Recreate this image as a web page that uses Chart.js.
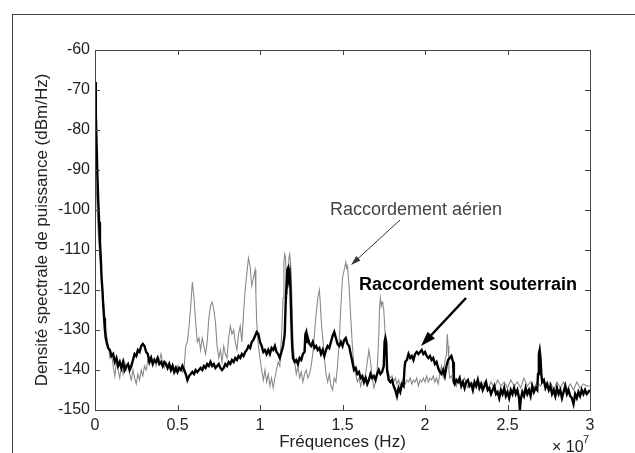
<!DOCTYPE html>
<html><head><meta charset="utf-8">
<script src="https://cdn.jsdelivr.net/npm/chart.js@4"></script>
<style>
html,body{margin:0;padding:0;background:#fff;}
#wrap{position:relative;width:635px;height:453px;overflow:hidden;}
#frame{position:absolute;left:12px;top:14px;width:640px;height:460px;border-left:1px solid #444;border-top:1px solid #444;}
canvas{position:absolute;left:0;top:0;}
</style></head><body>
<div id="wrap"><div id="frame"></div><canvas id="c" width="635" height="453"></canvas></div>
<script>
// Frequencies in units of 1e7 Hz
const freqSouterrain = [0,0.005,0.01,0.015,0.02,0.025,0.03,0.035,0.04,0.045,0.05,0.055,0.06,0.065,0.07,0.08,0.09,0.10,0.11,0.12,0.13,0.14,0.15,0.16,0.17,0.18,0.19,0.20,0.21,0.22,0.23,0.24,0.25,0.26,0.27,0.28,0.29,0.30,0.31,0.32,0.33,0.34,0.35,0.36,0.37,0.38,0.39,0.40,0.41,0.42,0.43,0.44,0.45,0.46,0.47,0.48,0.49,0.50,0.51,0.52,0.53,0.54,0.55,0.56,0.57,0.58,0.59,0.60,0.61,0.62,0.63,0.64,0.65,0.66,0.67,0.68,0.69,0.70,0.71,0.72,0.73,0.74,0.75,0.76,0.77,0.78,0.79,0.80,0.81,0.82,0.83,0.84,0.85,0.86,0.87,0.88,0.89,0.90,0.91,0.92,0.93,0.94,0.95,0.96,0.97,0.98,0.99,1.00,1.01,1.02,1.03,1.04,1.05,1.06,1.07,1.08,1.09,1.10,1.11,1.12,1.13,1.14,1.15,1.155,1.16,1.165,1.17,1.175,1.18,1.185,1.19,1.195,1.20,1.21,1.22,1.23,1.24,1.25,1.26,1.27,1.275,1.28,1.285,1.29,1.30,1.31,1.32,1.33,1.34,1.35,1.36,1.37,1.38,1.39,1.40,1.41,1.42,1.43,1.44,1.45,1.46,1.47,1.48,1.49,1.50,1.51,1.52,1.53,1.54,1.55,1.56,1.57,1.58,1.59,1.60,1.61,1.62,1.63,1.64,1.65,1.66,1.67,1.68,1.69,1.70,1.71,1.72,1.73,1.74,1.75,1.755,1.76,1.765,1.77,1.78,1.79,1.80,1.81,1.82,1.83,1.84,1.85,1.86,1.87,1.875,1.88,1.89,1.90,1.91,1.92,1.93,1.94,1.95,1.96,1.97,1.98,1.99,2.00,2.01,2.02,2.03,2.04,2.05,2.06,2.07,2.08,2.09,2.10,2.11,2.12,2.13,2.14,2.15,2.16,2.17,2.175,2.18,2.19,2.20,2.21,2.22,2.23,2.24,2.25,2.26,2.27,2.28,2.29,2.30,2.31,2.32,2.33,2.34,2.35,2.36,2.37,2.38,2.39,2.40,2.41,2.42,2.43,2.44,2.45,2.46,2.47,2.48,2.49,2.50,2.51,2.52,2.53,2.54,2.55,2.56,2.57,2.575,2.58,2.59,2.60,2.61,2.62,2.63,2.64,2.65,2.66,2.67,2.68,2.685,2.69,2.695,2.70,2.705,2.71,2.72,2.73,2.74,2.75,2.76,2.77,2.78,2.79,2.80,2.81,2.82,2.83,2.84,2.85,2.86,2.87,2.88,2.89,2.90,2.91,2.92,2.93,2.94,2.95,2.96,2.97,2.98,2.99,3.00];
const dspSouterrain = [-68,-76,-84,-92,-98,-103,-108,-112,-117,-120,-124,-127,-130,-132,-133,-134.5,-135,-136.5,-136,-138,-137,-139,-138,-139.5,-138,-140,-139,-138.5,-140,-139,-137.5,-136,-136.5,-135,-135.5,-134,-133.5,-134,-135.5,-136,-138,-137,-138.5,-137.5,-138,-137,-138.5,-138,-139,-138,-138.5,-139.5,-138.5,-140,-139,-140.5,-139.5,-140.5,-139.5,-140,-139,-140,-141,-142.5,-141.5,-141,-140.5,-141,-140,-140.5,-140,-139.5,-140,-139,-139.5,-138.5,-139,-138,-139,-138.5,-139.5,-139,-138.5,-139.5,-140,-139.5,-138.5,-139,-138,-138.5,-137.5,-138,-137,-137.5,-136.5,-137,-136,-136.5,-135.5,-135,-134,-134.5,-133,-132.5,-131.5,-130.5,-131,-133,-134,-135.5,-135,-136,-135,-136,-134.5,-135,-134,-135.5,-136,-137,-135.5,-134,-131,-124,-119,-115,-114.5,-117,-116,-120,-128,-134,-137,-138,-137.5,-138.5,-137,-137.5,-136,-135.5,-131,-130.5,-133,-132,-133.5,-134,-133,-134.5,-134,-135,-134.5,-136,-135,-136.5,-135,-134,-134.5,-133,-131.5,-130.5,-132,-133.5,-134,-133,-134,-132.5,-132,-133.5,-134,-136,-138,-140,-139.5,-141,-140.5,-142,-141.5,-143,-142,-143.5,-142.5,-141,-142,-141.5,-142.5,-141,-140,-141,-140.5,-139,-133,-132,-133,-140,-142.5,-143,-142.5,-144,-145,-146.5,-144.5,-145.5,-143.5,-144,-140,-138,-137.5,-136,-137,-136.5,-137.5,-136,-135.5,-136,-135.5,-135,-136,-135.5,-136.5,-137,-136.5,-137.5,-137,-138.5,-138,-139.5,-140.5,-141,-140,-141.5,-139,-137.5,-137,-136.5,-138,-143,-143.5,-142.5,-143,-142,-144,-143,-144.5,-143,-142.5,-144,-143.5,-145,-143,-144,-142.5,-144.5,-143.5,-145,-144,-143,-145,-144.5,-146,-145,-144,-146,-145.5,-147,-145,-146,-144.5,-146.5,-145.5,-147,-145,-146,-144.5,-146,-145,-147,-150,-147.5,-145.5,-146.5,-144.5,-146,-145,-146.5,-144,-145.5,-144.5,-145,-141,-136,-135,-137,-141,-143,-142.5,-144.5,-143.5,-145,-144,-146,-145,-146.5,-144.5,-146,-145,-147,-145.5,-144,-146,-145,-146.5,-147,-148.5,-146,-147,-145.5,-146.5,-145,-146,-145,-146,-145.5,-145];

const freqAerien = [0,0.005,0.01,0.015,0.02,0.03,0.04,0.05,0.06,0.07,0.08,0.09,0.10,0.11,0.12,0.13,0.14,0.15,0.16,0.17,0.18,0.19,0.20,0.21,0.22,0.23,0.24,0.25,0.26,0.27,0.28,0.29,0.30,0.31,0.32,0.33,0.34,0.35,0.36,0.37,0.38,0.39,0.40,0.41,0.42,0.43,0.44,0.45,0.46,0.47,0.48,0.49,0.50,0.51,0.52,0.53,0.54,0.55,0.56,0.57,0.58,0.59,0.60,0.61,0.62,0.63,0.64,0.65,0.66,0.67,0.68,0.69,0.70,0.71,0.72,0.73,0.74,0.75,0.76,0.77,0.78,0.79,0.80,0.81,0.82,0.83,0.84,0.85,0.86,0.87,0.88,0.89,0.90,0.91,0.92,0.93,0.94,0.95,0.96,0.97,0.975,0.98,0.99,1.00,1.01,1.02,1.03,1.04,1.05,1.06,1.07,1.08,1.09,1.10,1.11,1.12,1.13,1.14,1.145,1.15,1.155,1.16,1.165,1.17,1.175,1.18,1.185,1.19,1.195,1.20,1.21,1.22,1.23,1.24,1.25,1.26,1.27,1.28,1.29,1.30,1.31,1.32,1.33,1.34,1.35,1.36,1.365,1.37,1.38,1.39,1.40,1.41,1.42,1.43,1.44,1.45,1.46,1.47,1.48,1.49,1.50,1.51,1.52,1.525,1.53,1.54,1.55,1.56,1.57,1.58,1.59,1.60,1.61,1.62,1.63,1.64,1.65,1.66,1.67,1.68,1.69,1.70,1.71,1.72,1.725,1.73,1.735,1.74,1.745,1.75,1.76,1.77,1.78,1.79,1.80,1.81,1.82,1.83,1.84,1.85,1.86,1.87,1.88,1.89,1.90,1.91,1.92,1.93,1.94,1.95,1.96,1.97,1.98,1.99,2.00,2.01,2.02,2.03,2.04,2.05,2.06,2.07,2.08,2.09,2.10,2.11,2.12,2.13,2.135,2.14,2.145,2.15,2.16,2.17,2.18,2.19,2.20,2.22,2.24,2.26,2.28,2.30,2.32,2.34,2.36,2.38,2.40,2.42,2.44,2.46,2.48,2.50,2.52,2.54,2.56,2.58,2.60,2.62,2.64,2.66,2.68,2.70,2.72,2.74,2.76,2.78,2.80,2.82,2.84,2.86,2.88,2.90,2.92,2.94,2.96,2.98,3.00];
const dspAerien = [-88,-92,-97,-102,-106,-112,-117,-122,-127,-131,-134,-137,-136,-139,-141.5,-138,-140,-142,-139,-141,-138,-140,-138.5,-141,-142.5,-140,-142,-143.5,-141,-142.5,-140,-141.5,-139,-140,-137.5,-138.5,-136.5,-138,-137,-139,-137.5,-138,-136,-138,-139.5,-138,-139,-138.5,-140,-138.5,-139.5,-140.5,-139,-140,-139.5,-140.5,-139.5,-134,-133,-129,-124,-118,-122,-128,-133,-132,-135,-132,-134,-136,-133,-127,-124,-123,-125,-128,-134,-137,-135,-138,-134,-136,-137,-132,-129,-131,-130,-133,-135,-131,-129,-133,-126,-120,-116,-112,-114,-119,-117,-115,-121,-128,-134,-137,-140,-142.5,-140,-143,-141,-144,-142,-144.5,-142,-140,-138,-139,-132,-122,-113,-111,-112,-117,-121,-118,-112,-111,-113,-117,-125,-133,-138,-141,-139,-142,-140.5,-143,-141,-140,-142,-141,-139,-136,-131,-126,-122,-120,-123,-127,-132,-137,-141,-143,-141,-144,-145,-142,-143,-139,-133,-124,-117,-115,-113,-114.5,-114,-119,-127,-134,-139,-141,-143,-142,-144,-142,-143.5,-141,-138,-135,-138,-142,-144.5,-143,-140,-131,-124,-122,-124,-123,-123.5,-125,-132,-139,-141,-142,-141.5,-143,-142,-143.5,-142.5,-144,-143,-142,-143.5,-142.5,-143,-142,-143.5,-142.5,-143,-142,-144,-142.5,-143,-142,-143,-141.5,-143,-142,-142.5,-141.5,-143,-142,-143.5,-141,-139,-141.5,-138,-136,-131,-134,-140,-142,-141.5,-143,-142,-144,-142.5,-144,-142,-144.5,-143,-144,-142.5,-144,-143,-145,-143,-144.5,-142.5,-144,-143,-144.5,-142.5,-144,-143,-144.5,-142,-144,-143,-144.5,-143,-144,-142.5,-144,-143,-145,-143,-144.5,-143,-145,-143.5,-145,-143,-144.5,-143.5,-144,-144];

const xTicks = [0,0.5,1,1.5,2,2.5,3];
const yTicks = [-150,-140,-130,-120,-110,-100,-90,-80,-70,-60];
const labelAerien = 'Raccordement aérien';
const labelSouterrain = 'Raccordement souterrain';

const FONT = '"Liberation Sans", Arial, Helvetica, sans-serif';

function arrow(ctx, x1, y1, x2, y2, lw, hl, hw, color) {
  const a = Math.atan2(y2 - y1, x2 - x1);
  ctx.save();
  ctx.strokeStyle = color; ctx.fillStyle = color; ctx.lineWidth = lw;
  ctx.beginPath();
  ctx.moveTo(x1, y1);
  ctx.lineTo(x2 - Math.cos(a) * hl * 0.8, y2 - Math.sin(a) * hl * 0.8);
  ctx.stroke();
  ctx.beginPath();
  ctx.moveTo(x2, y2);
  ctx.lineTo(x2 - Math.cos(a) * hl + Math.sin(a) * hw / 2, y2 - Math.sin(a) * hl - Math.cos(a) * hw / 2);
  ctx.lineTo(x2 - Math.cos(a) * hl - Math.sin(a) * hw / 2, y2 - Math.sin(a) * hl + Math.cos(a) * hw / 2);
  ctx.closePath();
  ctx.fill();
  ctx.restore();
}

const matlabFrame = {
  id: 'matlabFrame',
  afterDatasetsDraw(chart) {
    const {ctx, chartArea: a, scales} = chart;
    ctx.save();
    ctx.strokeStyle = '#444';
    ctx.lineWidth = 1;
    ctx.strokeRect(Math.round(a.left) + 0.5, Math.round(a.top) + 0.5, Math.round(a.right - a.left), Math.round(a.bottom - a.top));
    const tl = 5;
    ctx.beginPath();
    xTicks.forEach(v => {
      const x = Math.round(scales.x.getPixelForValue(v)) + 0.5;
      ctx.moveTo(x, a.bottom); ctx.lineTo(x, a.bottom - tl);
      ctx.moveTo(x, a.top); ctx.lineTo(x, a.top + tl);
    });
    yTicks.forEach(v => {
      const y = Math.round(scales.y.getPixelForValue(v)) + 0.5;
      ctx.moveTo(a.left, y); ctx.lineTo(a.left + tl, y);
      ctx.moveTo(a.right, y); ctx.lineTo(a.right - tl, y);
    });
    ctx.stroke();

    // exponent label
    ctx.fillStyle = '#222';
    ctx.textBaseline = 'alphabetic';
    ctx.textAlign = 'left';
    ctx.font = '16px ' + FONT;
    ctx.fillText('\u00d7 10', 552, 452);
    ctx.font = '11px ' + FONT;
    ctx.fillText('7', 583, 443);

    // annotations
    ctx.font = '18px ' + FONT;
    ctx.fillStyle = '#444';
    ctx.textAlign = 'center';
    ctx.fillText(labelAerien, 416, 215);
    ctx.font = 'bold 18px ' + FONT;
    ctx.fillStyle = '#000';
    ctx.fillText(labelSouterrain, 468, 290);
    arrow(ctx, 400, 220, 351, 265, 1, 10, 6, '#333');
    arrow(ctx, 466, 298, 421, 346, 2.5, 15, 10, '#000');
    ctx.restore();
  }
};

new Chart(document.getElementById('c'), {
  type: 'line',
  data: {
    datasets: [
      {
        label: labelSouterrain,
        data: freqSouterrain.map((f, i) => ({x: f, y: dspSouterrain[i]})),
        borderColor: '#000', borderWidth: 2.4, pointRadius: 0, tension: 0, fill: false
      },
      {
        label: labelAerien,
        data: freqAerien.map((f, i) => ({x: f, y: dspAerien[i]})),
        borderColor: '#8a8a8a', borderWidth: 1.1, pointRadius: 0, tension: 0, fill: false
      }
    ]
  },
  options: {
    responsive: false,
    animation: false,
    devicePixelRatio: 1,
    layout: {padding: {left: 0, top: 50, right: 45, bottom: 0}},
    plugins: {legend: {display: false}, tooltip: {enabled: false}},
    scales: {
      x: {
        type: 'linear', min: 0, max: 3,
        afterFit: s => { s.height = 43; },
        afterBuildTicks: s => { s.ticks = xTicks.map(v => ({value: v})); },
        grid: {display: false, drawTicks: false},
        border: {display: false},
        ticks: {padding: 6, color: '#222', font: {family: FONT, size: 16}, maxRotation: 0,
          callback: v => String(v)},
        title: {display: true, text: 'Fréquences (Hz)', color: '#222', font: {family: FONT, size: 17}, padding: {top: 7, bottom: 0}}
      },
      y: {
        type: 'linear', min: -150, max: -60,
        afterFit: s => { s.width = 95; },
        afterBuildTicks: s => { s.ticks = yTicks.map(v => ({value: v})); },
        grid: {display: false, drawTicks: false},
        border: {display: false},
        ticks: {padding: 5, color: '#222', font: {family: FONT, size: 16}},
        title: {display: true, text: 'Densité spectrale de puissance (dBm/Hz)', color: '#222', font: {family: FONT, size: 17}, padding: {top: 32, bottom: 0}}
      }
    }
  },
  plugins: [matlabFrame]
});
</script>
</body></html>
